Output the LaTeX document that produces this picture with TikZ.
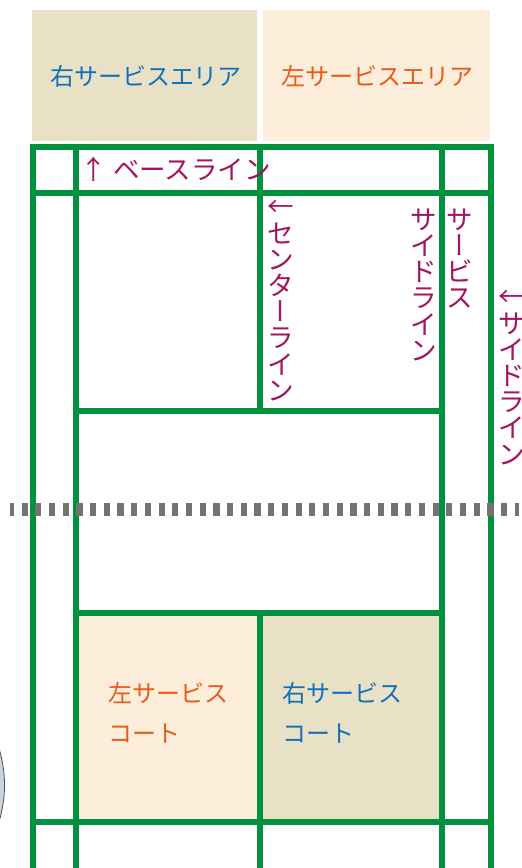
\documentclass[tikz,border=0pt]{standalone}
\usepackage{fontspec}
\newfontfamily\jp{Noto Sans CJK JP}
\newfontfamily\jpv[RawFeature=+vert]{Noto Sans CJK JP}
\definecolor{courtgreen}{HTML}{00923F}
\definecolor{beigefill}{HTML}{E8E1C6}
\definecolor{peachfill}{HTML}{FDEEDB}
\definecolor{bluetext}{HTML}{1170BA}
\definecolor{orangetext}{HTML}{E95A1A}
\definecolor{purpletext}{HTML}{A2145F}
\definecolor{netgray}{HTML}{737373}
\definecolor{ballfill}{HTML}{C8D4DE}
\newcommand\vsr{\rule[-3.03pt]{0pt}{26.2pt}}
\newcommand\hsr{\rule[-10.9pt]{0pt}{40pt}}
\tikzset{
  court/.style={draw=courtgreen, line width=6pt},
  lbl/.style={font=\jp\fontsize{24}{40}\selectfont, inner sep=0pt},
  plbl/.style={font=\jp\fontsize{26.5}{26.2}\selectfont, inner sep=0pt, text=purpletext},
  vlbl/.style={plbl, align=center, anchor=north},
  netline/.style={draw=netgray, line width=12.7pt, dash pattern=on 6.2pt off 7.5pt, dash phase=2.2pt},
}
\begin{document}
\begin{tikzpicture}[x=1pt,y=-1pt]
\useasboundingbox (0,0) rectangle (522,868);
\clip (0,0) rectangle (522,868);
% top service area boxes
\fill[beigefill] (32,10) rectangle (257,140.5);
\fill[peachfill] (263,10) rectangle (490,140.5);
\node[lbl, text=bluetext, anchor=base] (rsa) at (146,85.6) {右サービスエリア};
\node[lbl, text=orangetext, anchor=base] (lsa) at (377.5,85.6) {左サービスエリア};
% bottom service courts
\fill[peachfill] (75.5,613) rectangle (260,822);
\fill[beigefill] (260,613) rectangle (441.5,822);
% partial object at left edge
\draw[draw=black!70, fill=ballfill, line width=0.8pt] (-118.5,785) circle (123);
% court lines
\draw[court] (32.5,147) rectangle (490.5,871);
\draw[court] (75.5,147) -- (75.5,871);
\draw[court] (441.5,147) -- (441.5,871);
\draw[court] (32.5,193) -- (490.5,193);
\draw[court] (260,147) -- (260,411);
\draw[court] (75.5,411) -- (441.5,411);
\draw[court] (75.5,613) -- (441.5,613);
\draw[court] (260,613) -- (260,871);
\draw[court] (32.5,822) -- (490.5,822);
% net
\draw[netline] (10,509.7) -- (519,509.7);
% labels
\node[plbl, anchor=base west] (base) at (80.5,179) {↑ ベースライン};
\node[vlbl] (cline) at (280.5,193.6) {\vsr←\\\vsr セ\\\vsr ン\\\vsr タ\\\vsr{\jpv ー}\\\vsr ラ\\\vsr イ\\\vsr ン};
\node[vlbl] (ssl2) at (423.5,205.9) {\vsr サ\\\vsr イ\\\vsr ド\\\vsr ラ\\\vsr イ\\\vsr ン};
\node[vlbl] (ssl1) at (459.5,205.9) {\vsr サ\\\vsr{\jpv ー}\\\vsr ビ\\\vsr ス};
\node[vlbl] (sline) at (511.5,283.6) {\vsr←\\\vsr サ\\\vsr イ\\\vsr ド\\\vsr ラ\\\vsr イ\\\vsr ン};
\node[lbl, text=orangetext, align=left, anchor=north west] (lsc) at (108,673) {\hsr 左サービス\\\hsr コート};
\node[lbl, text=bluetext, align=left, anchor=north west] (rsc) at (282,673) {\hsr 右サービス\\\hsr コート};
\end{tikzpicture}
\end{document}
